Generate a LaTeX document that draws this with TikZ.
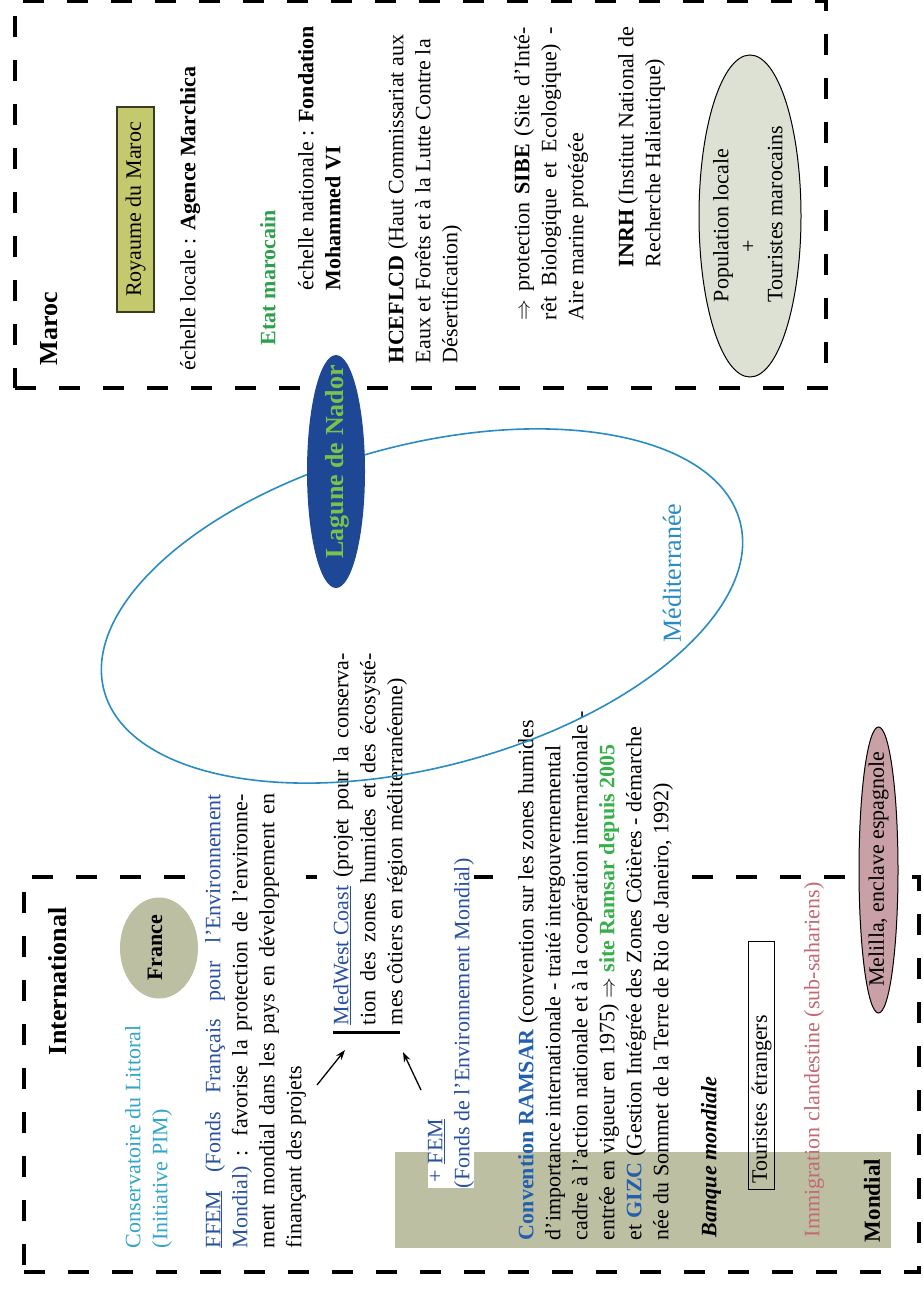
\documentclass[tikz,border=0pt]{standalone}
\usepackage{fontspec}
\setmainfont{Liberation Serif}
\usetikzlibrary{arrows.meta}
\definecolor{ffemblue}{RGB}{40,80,160}
\definecolor{ramblue}{RGB}{35,95,175}
\definecolor{conscyan}{RGB}{50,165,200}
\definecolor{etatgreen}{RGB}{45,160,75}
\definecolor{ramgreen}{RGB}{55,175,75}
\definecolor{lagtxt}{RGB}{120,195,75}
\definecolor{lagfill}{RGB}{30,72,150}
\definecolor{medblue}{RGB}{40,140,195}
\definecolor{immcol}{RGB}{195,105,115}
\definecolor{melfill}{RGB}{200,160,165}
\definecolor{popfill}{RGB}{220,225,212}
\definecolor{olivefill}{RGB}{189,191,163}
\definecolor{royfill}{RGB}{197,201,110}
\definecolor{royborder}{RGB}{60,60,30}
\newcommand{\fsbody}{\fontsize{22pt}{27pt}\selectfont}
\newcommand{\fstitle}{\fontsize{26pt}{31pt}\selectfont}
\newcommand{\jl}[2]{\makebox[#1][s]{#2}}
\begin{document}
\begin{tikzpicture}[x=1pt,y=1pt,
  txt/.style={inner sep=0pt, outer sep=0pt, anchor=north west, font=\fsbody, align=left, text=black},
  ttl/.style={txt, font=\fstitle\bfseries},
  boxdash/.style={line width=3.5pt, dash pattern=on 21pt off 23pt},
  wbg/.style={fill=white},
  arr/.style={-{Stealth[length=10pt,width=7pt]}, line width=1.3pt}]
\begin{scope}[shift={(0,-1290)}, rotate=90, transform shape]
\fill[white] (0,0) rectangle (1290,-922);
\useasboundingbox (0,0) rectangle (1290,-922);
% frames
\draw[boxdash] (902,-15) rectangle (1289,-826);
\draw[boxdash] (18,-24) rectangle (413,-919);
\fill[olivefill] (42,-395) rectangle (138,-891);
\fill[white] (398,-512) rectangle (430,-676);
% ---------- Maroc ----------
\node[ttl] (maroc) at (925,-40) {Maroc};
\node[draw=royborder, fill=royfill, line width=1.2pt, minimum width=205pt, minimum height=37pt, inner sep=0pt, font=\fsbody] (royaume) at (1080.5,-135.5) {Royaume du Maroc};
\node[txt] (echloc) at (920,-180) {échelle locale : \textbf{Agence Marchica}};
\node[txt, font=\fsbody\bfseries, text=etatgreen] (etat) at (945,-260) {Etat marocain};
\node[txt] (echnat) at (1000,-298) {échelle nationale : \textbf{Fondation}\\\textbf{Mohammed VI}};
\node[txt] (hcef) at (927,-388) {\textbf{HCEFLCD} (Haut Commissariat aux\\Eaux et Forêts et à la Lutte Contre la\\Désertification)};
\node[txt] (sibe) at (970,-514) {\jl{293pt}{$\Rightarrow$ protection \textbf{SIBE} (Site d’Inté-}\\\jl{293pt}{rêt Biologique et Ecologique) -}\\Aire marine protégée};
\node[txt] (inrh) at (1023,-618) {\textbf{INRH} (Institut National de\\Recherche Halieutique)};
\filldraw[fill=popfill, draw=black, line width=1pt] (1074,-750) ellipse [x radius=161, y radius=51];
\node[txt] (pop) at (988,-713) {Population locale\\\hspace*{50pt}+\\Touristes marocains};
% ---------- International ----------
\node[ttl] (intl) at (235,-48) {International};
\fill[olivefill] (342,-159) ellipse [x radius=50.5, y radius=39];
\node[font=\fsbody\bfseries, inner sep=0pt] (france) at (342,-155) {France};
\node[txt, text=conscyan] (cons) at (42,-125) {Conservatoire du Littoral\\(Initiative PIM)};
\node[txt, wbg] (ffem) at (42,-205) {\jl{454pt}{\textcolor{ffemblue}{\underline{FFEM} (Fonds Français pour l’Environnement}}\\
\jl{454pt}{\textcolor{ffemblue}{Mondial)} : favorise la protection de l’environne-}\\
\jl{454pt}{ment mondial dans les pays en développement en}\\
finançant des projets};
\node[txt, wbg] (medwest) at (265,-333) {\jl{372pt}{\textcolor{ffemblue}{\underline{MedWest Coast}} (projet pour la conserva-}\\
\jl{372pt}{tion des zones humides et des écosysté-}\\
mes côtiers en région méditerranéenne)};
\draw[line width=3pt] (258,-333) -- (258,-400);
\coordinate (a1s) at (205,-317);
\coordinate (a1e) at (240,-345);
\coordinate (a2s) at (200,-421);
\coordinate (a2e) at (238,-403);
\draw[arr] (a1s) -- (a1e);
\draw[arr] (a2s) -- (a2e);
\node[txt, wbg, text=ffemblue] (fem) at (102,-428) {\hspace*{6pt}+ \underline{FEM}\\(Fonds de l’Environnement Mondial)};
\node[txt] (ramsar) at (50,-518) {\textcolor{ramblue}{\textbf{Convention RAMSAR}} (convention sur les zones humides\\
d’importance internationale - traité intergouvernemental\\
cadre à l’action nationale et à la coopération internationale -\\
entrée en vigueur en 1975) $\Rightarrow$ \textcolor{ramgreen}{\textbf{site Ramsar depuis 2005}}\\
et \textcolor{ramblue}{\textbf{GIZC}} (Gestion Intégrée des Zones Côtières - démarche\\
née du Sommet de la Terre de Rio de Janeiro, 1992)};
\node[txt, font=\fsbody\bfseries\itshape] (banque) at (53,-701) {Banque mondiale};
\node[draw, line width=1pt, inner xsep=6pt, inner ysep=0pt, minimum height=26pt, text width=236pt, align=left, anchor=north west, font=\fsbody] (tour) at (100,-748) {Touristes étrangers};
\node[txt, text=immcol] (immig) at (53,-804) {Immigration clandestine (sub-sahariens)};
\node[txt, font=\fontsize{23pt}{28pt}\selectfont\bfseries] (mondial) at (48,-864) {Mondial};
% ---------- middle ----------
\draw[medblue, line width=1.6pt, rotate around={14.9:(684,-422)}] (684,-422) ellipse [x radius=161, y radius=329];
\node[font=\fstitle, text=medblue, inner sep=0pt] (medit) at (717,-672) {Méditerranée};
\fill[lagfill] (818.5,-336) ellipse [x radius=116.5, y radius=29];
\node[font=\fstitle\bfseries, text=lagtxt, inner sep=0pt] (lagune) at (828,-337) {Lagune de Nador};
\filldraw[fill=melfill, draw=black, line width=1pt] (420,-878.5) ellipse [x radius=143, y radius=19.5];
\node[font=\fsbody, inner sep=0pt] (melilla) at (421,-878.5) {Melilla, enclave espagnole};
\end{scope}
\end{tikzpicture}
\end{document}
